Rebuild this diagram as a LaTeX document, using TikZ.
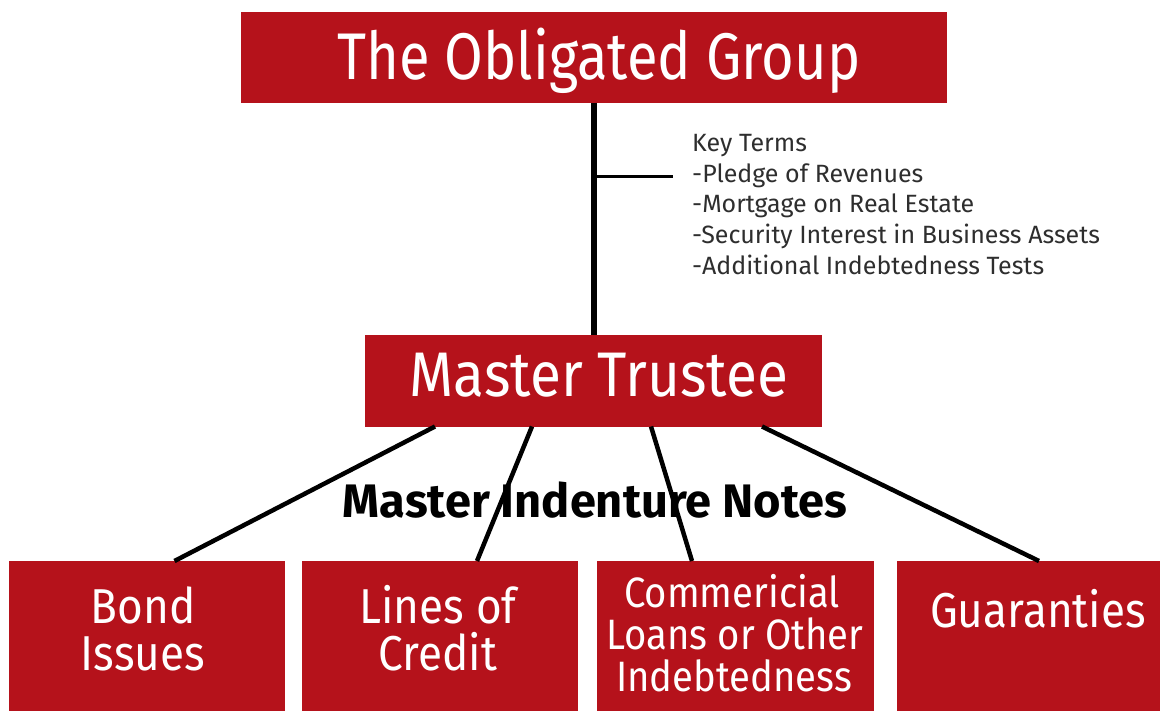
\documentclass[tikz,border=0pt]{standalone}
\usepackage{fontspec}
\setmainfont{Fira Sans}
\newfontfamily\titlesans[FakeStretch=0.85]{Fira Sans}
\newfontfamily\boxsans[FakeStretch=0.9]{Fira Sans}
\definecolor{obred}{HTML}{B5121B}
\definecolor{keygray}{HTML}{2E2E2E}
\newcommand{\bsz}[1]{\boxsans\fontsize{#1}{#1}\selectfont}
\begin{document}
\begin{tikzpicture}[x=1pt,y=-1pt,
  redbox/.style={fill=obred,draw=none,inner sep=0pt,outer sep=0pt},
  boxtext/.style={text=white,inner sep=0pt,anchor=base},
  link/.style={draw=black,line width=4.5pt}]
\useasboundingbox (0,0) rectangle (1160,711);
\clip (0,0) rectangle (1160,711);
\fill[white] (0,0) rectangle (1160,711);

% boxes
\node[redbox,minimum width=706pt,minimum height=91pt] (og) at (593.5,57.5) {};
\node[redbox,minimum width=457pt,minimum height=91pt] (mt) at (593.5,381) {};
\node[redbox,minimum width=276pt,minimum height=200pt,anchor=north west] (b1) at (9,561) {};
\node[redbox,minimum width=276pt,minimum height=200pt,anchor=north west] (b2) at (302,561) {};
\node[redbox,minimum width=277pt,minimum height=200pt,anchor=north west] (b3) at (597,561) {};
\node[redbox,minimum width=300pt,minimum height=200pt,anchor=north west] (b4) at (897,561) {};

% box captions
\node[boxtext,font=\titlesans\fontsize{66}{66}\selectfont] (ogt) at (599,80) {The Obligated Group};
\node[boxtext,font=\bsz{63}] (mtt) at (599,397) {Master Trustee};
\node[boxtext,font=\bsz{49}] (b1a) at (143,623) {Bond};
\node[boxtext,font=\bsz{49}] (b1b) at (143,670) {Issues};
\node[boxtext,font=\bsz{49}] (b2a) at (438,623) {Lines of};
\node[boxtext,font=\bsz{49}] (b2b) at (438,670) {Credit};
\node[boxtext,font=\bsz{42.5}] (b3a) at (732,607) {Commericial};
\node[boxtext,font=\bsz{42.5}] (b3b) at (735,649) {Loans or Other};
\node[boxtext,font=\bsz{42.5}] (b3c) at (734,691) {Indebtedness};
\node[boxtext,font=\bsz{49}] (b4a) at (1038,627) {Guaranties};

% trunk between the two upper boxes, with the key-terms branch
\draw[line width=6pt] (og.south) -- (mt.north) coordinate[pos=0.32] (br);
\coordinate (brend) at (673,177);
\draw[line width=3pt] (br |- brend) -- (brend);
\node[anchor=north west,inner sep=0pt,text=keygray,font=\fontsize{25}{30.7}\selectfont,align=left] (kt) at (692,134)
  {Key Terms\\-Pledge of Revenues\\-Mortgage on Real Estate\\-Security Interest in Business Assets\\-Additional Indebtedness Tests};

% connectors to the four note types
\draw[link] ([xshift=-158.5pt]mt.south) -- ([xshift=27.5pt]b1.north);
\draw[link] ([xshift=-61.5pt]mt.south) -- ([xshift=37pt]b2.north);
\draw[link] ([xshift=57.5pt]mt.south) -- ([xshift=-43.5pt]b3.north);
\draw[link] ([xshift=168.5pt]mt.south) -- ([xshift=-8pt]b4.north);

\node[anchor=base,inner sep=0pt,font=\bfseries\fontsize{47}{47}\selectfont] (min) at (595,517) {Master Indenture Notes};
\end{tikzpicture}
\end{document}
